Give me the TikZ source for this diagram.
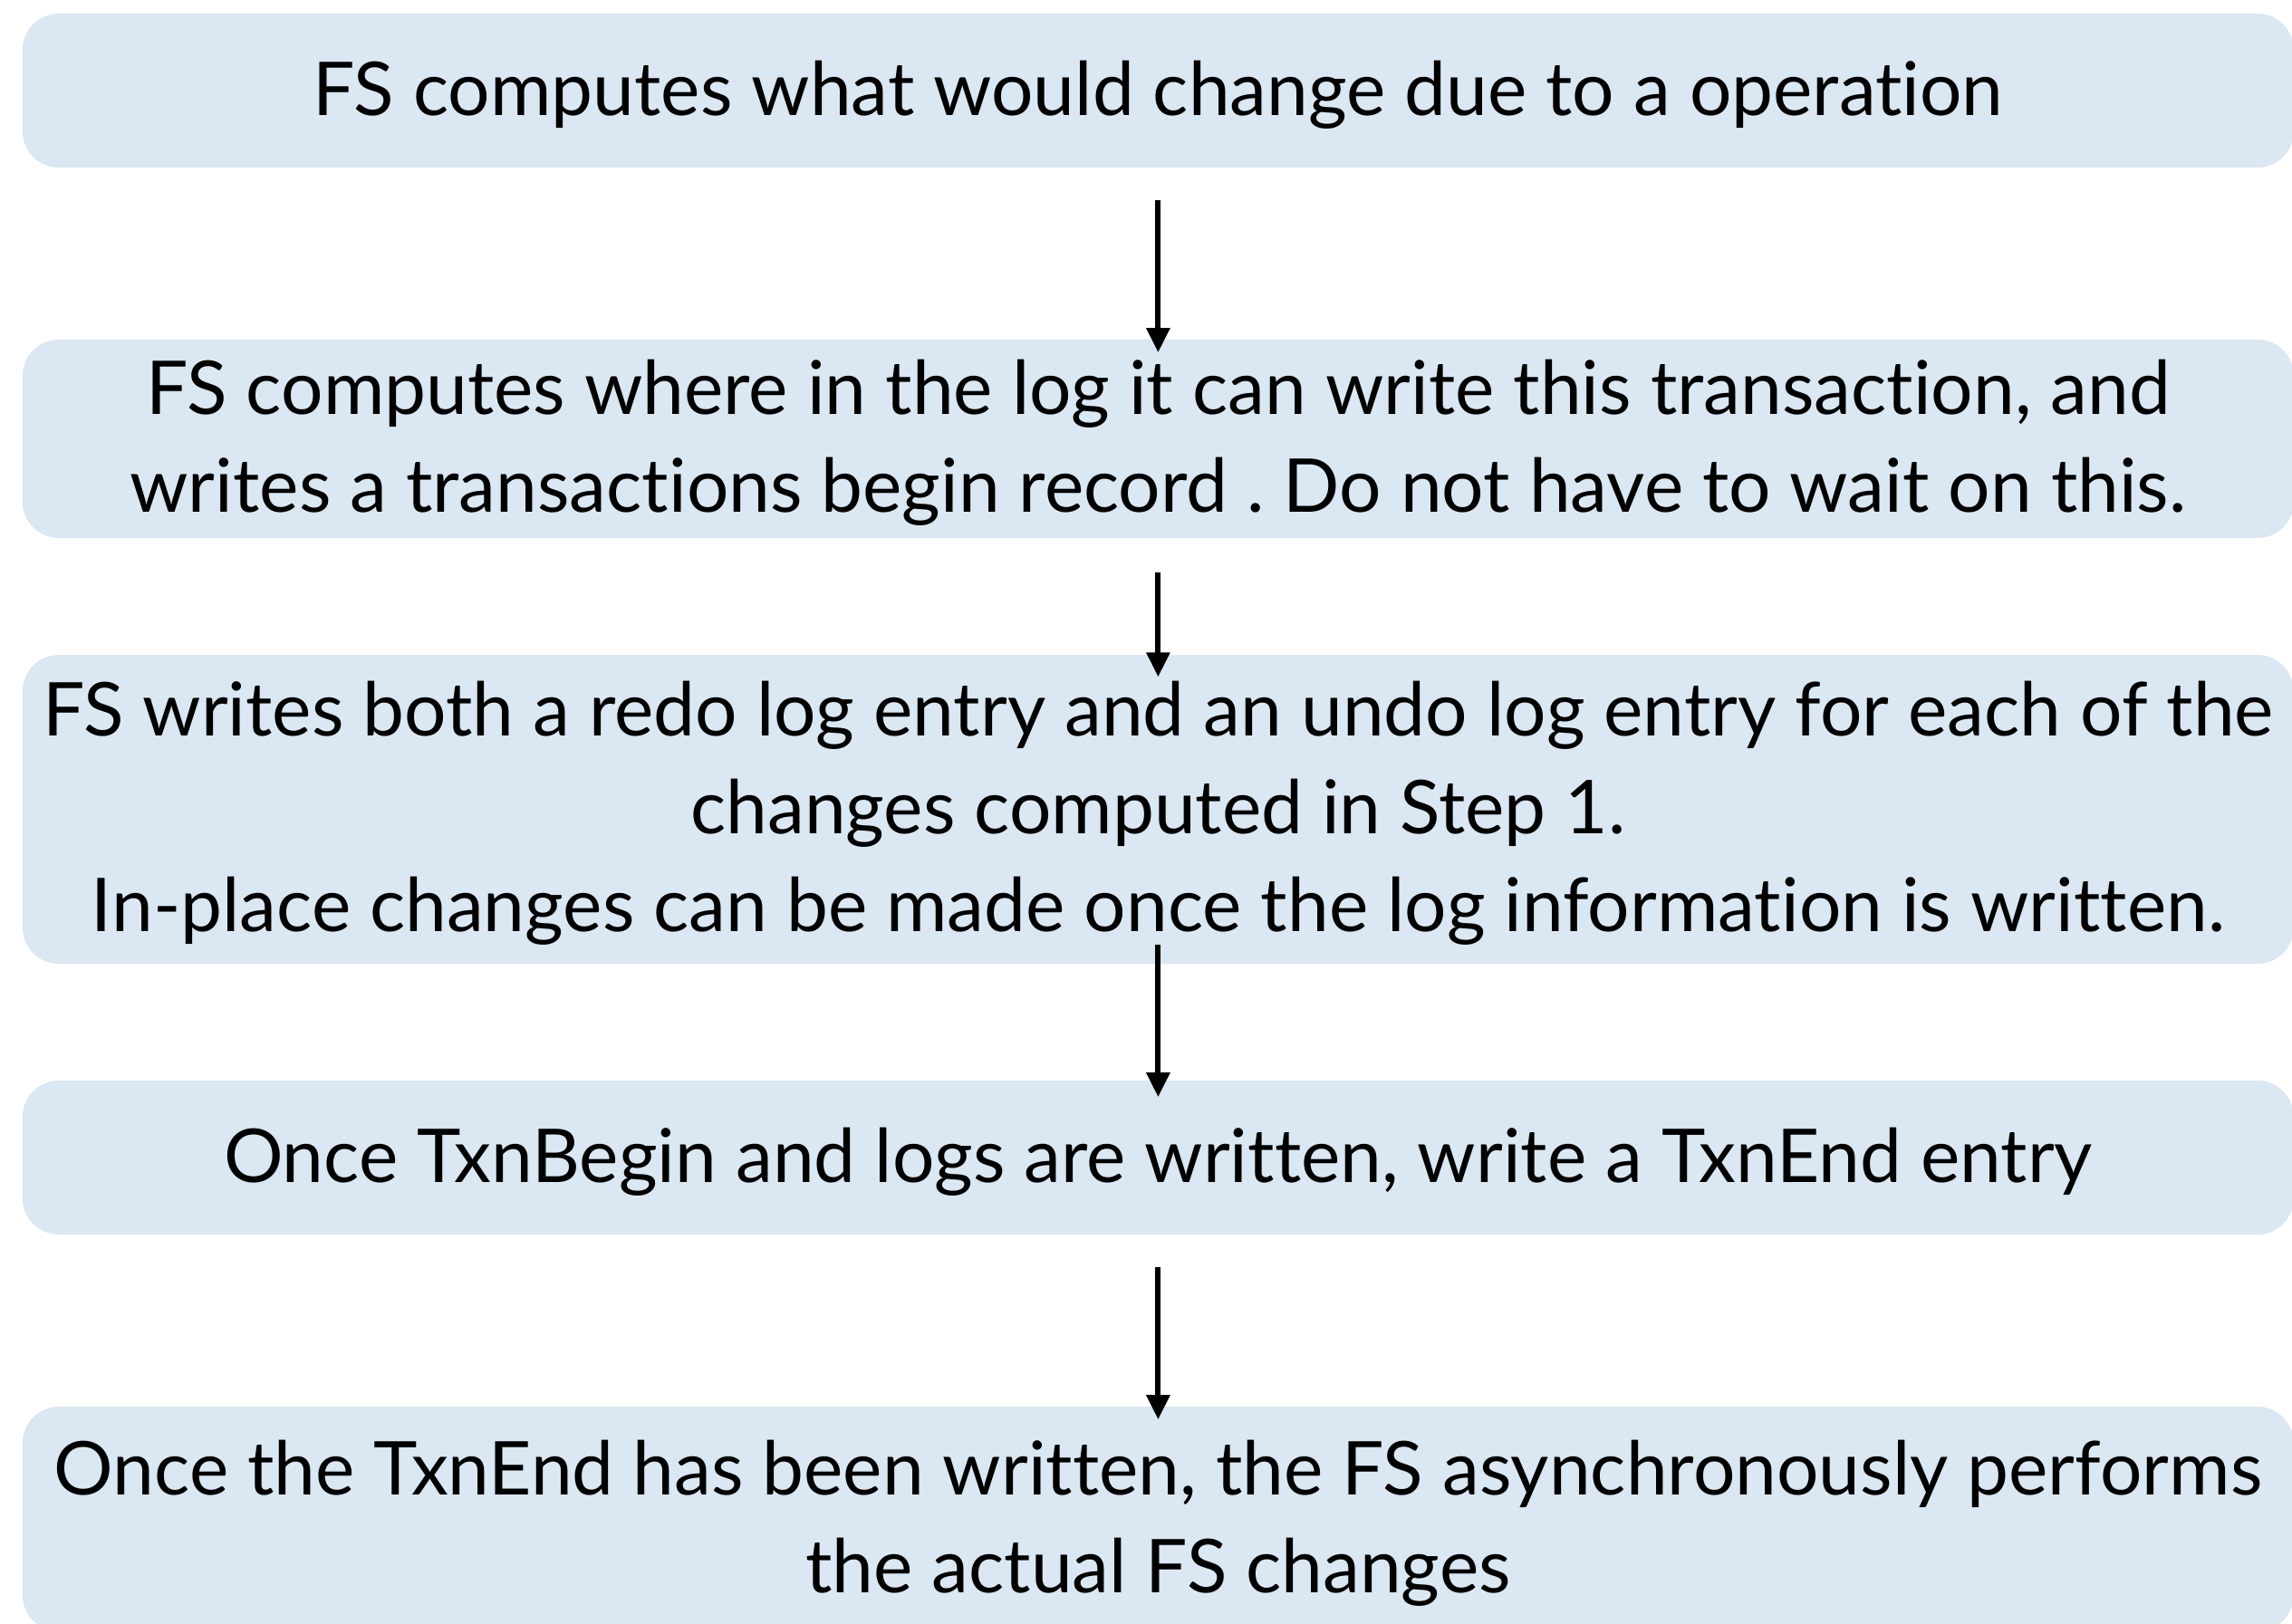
\documentclass[tikz,border=0pt]{standalone}
\usepackage{fontspec}
\setmainfont{Lato}[Ligatures=NoCommon]
\usepackage{tikz}
\usetikzlibrary{arrows.meta}

\definecolor{stepfill}{RGB}{219,231,243}
% struts so every box puts its lines at the same height
\newcommand{\upstrut}{\rule{0pt}{20pt}}
\newcommand{\downstrut}{\rule[-6.5pt]{0pt}{6.5pt}}

\begin{document}
\begin{tikzpicture}[x=1pt, y=1pt,
  stepbox/.style={fill=stepfill, rounded corners=10pt, minimum width=626.75pt,
    align=center, inner sep=0pt, font=\fontsize{20.5}{27}\selectfont\frenchspacing},
  flow/.style={-{Triangle[length=6.75pt, width=6.25pt]}, line width=1.5pt}]
  \useasboundingbox (0,0) rectangle (632.5,-448);

  % The five steps
  \node[stepbox, minimum height=42.5pt] (s1) at (319.6,-25)
    {\upstrut FS computes what would change due to a operation\downstrut};
  \node[stepbox, minimum height=54.75pt] (s2) at (319.6,-121.1)
    {\upstrut FS computes where in the log it can write this transaction, and\\
     writes a transactions begin record . Do not have to wait on this.\downstrut};
  \node[stepbox, minimum height=85.25pt] (s3) at (319.6,-223.4)
    {\upstrut FS writes both a redo log entry and an undo log entry for each of the\\
     changes computed in Step 1.\\
     In-place changes can be made once the log information is written.\downstrut};
  \node[stepbox, minimum height=42.5pt] (s4) at (319.6,-319.5)
    {\upstrut Once TxnBegin and logs are written, write a TxnEnd entry\downstrut};
  \node[stepbox, minimum height=62pt] (s5) at (319.6,-419.25)
    {\upstrut Once the TxnEnd has been written, the FS asynchronously performs\\
     the actual FS changes\downstrut};

  % Arrows between the steps
  \draw[flow] ([yshift=-8.75pt]s1.south) -- ([yshift=-3.75pt]s2.north);
  \draw[flow] ([yshift=-9.25pt]s2.south) -- ([yshift=-6.25pt]s3.north);
  \draw[flow] ([yshift=5.5pt]s3.south) -- ([yshift=-4.75pt]s4.north);
  \draw[flow] ([yshift=-8.75pt]s4.south) -- ([yshift=-3.75pt]s5.north);
\end{tikzpicture}
\end{document}
